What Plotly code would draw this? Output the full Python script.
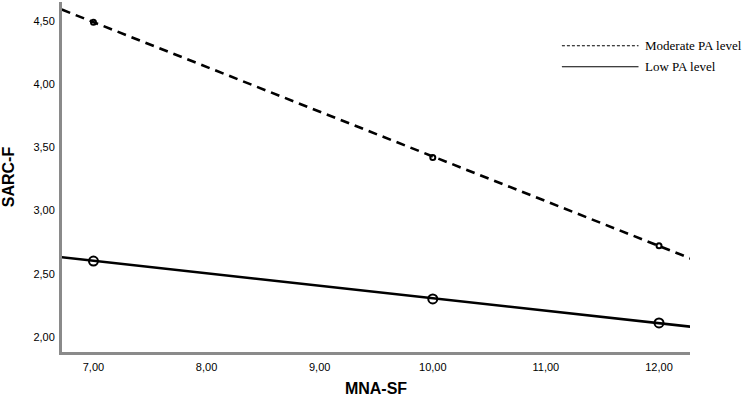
import plotly.graph_objects as go

# Data
mna_sf = [7, 10, 12]
sarc_moderate = [4.49, 3.42, 2.72]
sarc_low = [2.60, 2.30, 2.11]
fit_x = [6.72, 12.28]
fit_moderate = [4.59, 2.62]
fit_low = [2.63, 2.08]
x_ticks = [7, 8, 9, 10, 11, 12]
y_ticks = [2.0, 2.5, 3.0, 3.5, 4.0, 4.5]
legend_labels = ["Moderate PA level", "Low PA level"]

DASH = "9px,6px"

fig = go.Figure()

# Fit lines
fig.add_trace(go.Scatter(x=fit_x, y=fit_moderate, mode="lines",
                         line=dict(color="black", width=2.6, dash=DASH),
                         showlegend=False, hoverinfo="skip"))
fig.add_trace(go.Scatter(x=fit_x, y=fit_low, mode="lines",
                         line=dict(color="black", width=2.6),
                         showlegend=False, hoverinfo="skip"))
# Observed points
fig.add_trace(go.Scatter(x=mna_sf, y=sarc_moderate, mode="markers",
                         marker=dict(symbol="circle-open", size=5, color="black",
                                     line=dict(width=2, color="black")),
                         showlegend=False))
fig.add_trace(go.Scatter(x=mna_sf, y=sarc_low, mode="markers",
                         marker=dict(symbol="circle-open", size=9, color="black",
                                     line=dict(width=2, color="black")),
                         showlegend=False))

# Manual legend (long line samples, serif text)
legend_y = [0.875, 0.815]
dashes = ["dot", "solid"]
for lbl, ly, d in zip(legend_labels, legend_y, dashes):
    fig.add_shape(type="line", xref="paper", yref="paper",
                  x0=0.796, x1=0.918, y0=ly, y1=ly,
                  line=dict(color="black", width=1.2, dash=("3px,2px" if d == "dot" else "solid")))
    fig.add_annotation(xref="paper", yref="paper", x=0.925, y=ly, text=lbl,
                       showarrow=False, xanchor="left", yanchor="middle",
                       font=dict(family="Liberation Serif", size=13, color="black"))

fig.update_layout(
    width=744, height=405,
    margin=dict(l=62, r=54, t=2, b=53),
    paper_bgcolor="white", plot_bgcolor="white",
    separators=",.",
    font=dict(family="Liberation Sans, Arial", color="black"),
    showlegend=False,
)
fig.update_xaxes(range=[6.722, 12.274], tickvals=x_ticks, tickformat=".2f",
                 showgrid=False, zeroline=False, showline=True,
                 linecolor="#8a8a8a", linewidth=3, ticks="", automargin=False,
                 ticklabelstandoff=3,
                 tickfont=dict(size=11, color="black"),
                 title=dict(text="<b>MNA-SF</b>", font=dict(size=16, color="black"),
                            standoff=11))
fig.update_yaxes(range=[1.88, 4.65], tickvals=y_ticks, tickformat=".2f",
                 showgrid=False, zeroline=False, showline=True,
                 linecolor="#8a8a8a", linewidth=3, ticks="", automargin=False,
                 ticklabelstandoff=2,
                 tickfont=dict(size=11, color="black"),
                 title=dict(text="<b>SARC-F</b>", font=dict(size=16, color="black"),
                            standoff=16))

fig.write_html("out.html",
               config={"displayModeBar": False},
               post_script="document.body.style.margin='0';document.body.style.padding='0';")
